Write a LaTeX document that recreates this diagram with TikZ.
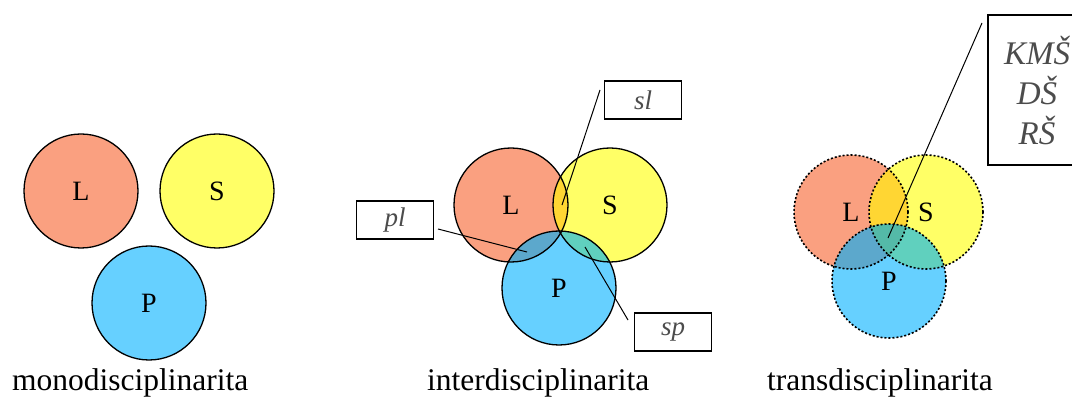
\documentclass[tikz,border=0pt]{standalone}
\usepackage{fontspec}
\setmainfont{Liberation Serif}
\usetikzlibrary{positioning}
\definecolor{vlsalmon}{RGB}{250,160,128}
\definecolor{vlyellow}{RGB}{255,255,102}
\definecolor{vlblue}{RGB}{102,208,255}
\definecolor{vlgold}{RGB}{255,214,51}
\definecolor{vlslate}{RGB}{92,168,204}
\definecolor{vlteal}{RGB}{96,208,190}
\definecolor{vlcore}{RGB}{84,186,168}

\begin{document}
\begin{tikzpicture}[
  x=1pt, y=-1pt,
  disc/.style={circle, minimum size=114pt, inner sep=0pt, outer sep=0pt, font=\fontsize{28}{28}\selectfont},
  lset/.style={disc, fill=vlsalmon},
  sset/.style={disc, fill=vlyellow},
  pset/.style={disc, fill=vlblue},
  rim/.style={draw=black, line width=1.3pt},
  dotrim/.style={rim, line width=1.6pt, dash pattern=on 2pt off 2pt},
  tag/.style={draw, line width=1.2pt, minimum width=77pt, minimum height=38pt, inner sep=0pt, font=\fontsize{27}{27}\selectfont\itshape, text=black!70},
  lead/.style={draw, line width=1pt},
  caption/.style={anchor=base west, inner sep=0pt, font=\fontsize{31.5}{31.5}\selectfont},
]
  \useasboundingbox (0,0) rectangle (1072,398);
  \clip (0,0) rectangle (1072,398);

  % monodisciplinarita: three separate sets
  \node[lset, rim] (L1) at (81,191) {L};
  \node[sset, rim] (S1) at (217,191) {S};
  \node[pset, rim] (P1) at (149,303) {P};

  % interdisciplinarita: pairwise overlaps
  \node[lset] (L2) at (511,205) {L};
  \node[sset] (S2) at (610,205) {S};
  \node[pset] (P2) at (559,288) {P};
  \begin{scope}
    \clip (L2.center) circle[radius=57pt];
    \fill[vlgold] (S2.center) circle[radius=57pt];
  \end{scope}
  \begin{scope}
    \clip (L2.center) circle[radius=57pt];
    \fill[vlslate] (P2.center) circle[radius=57pt];
  \end{scope}
  \begin{scope}
    \clip (S2.center) circle[radius=57pt];
    \fill[vlteal] (P2.center) circle[radius=57pt];
  \end{scope}
  \draw[rim] (L2.center) circle[radius=57pt];
  \draw[rim] (S2.center) circle[radius=57pt];
  \draw[rim] (P2.center) circle[radius=57pt];

  % transdisciplinarita: common core, dotted borders
  \node[lset] (L3) at (851,212) {L};
  \node[sset] (S3) at (926,212) {S};
  \node[pset] (P3) at (889,281) {P};
  \begin{scope}
    \clip (L3.center) circle[radius=57pt];
    \fill[vlgold] (S3.center) circle[radius=57pt];
  \end{scope}
  \begin{scope}
    \clip (L3.center) circle[radius=57pt];
    \fill[vlslate] (P3.center) circle[radius=57pt];
  \end{scope}
  \begin{scope}
    \clip (S3.center) circle[radius=57pt];
    \fill[vlteal] (P3.center) circle[radius=57pt];
  \end{scope}
  \begin{scope}
    \clip (L3.center) circle[radius=57pt];
    \clip (S3.center) circle[radius=57pt];
    \fill[vlcore] (P3.center) circle[radius=57pt];
  \end{scope}
  \draw[dotrim] (L3.center) circle[radius=57pt];
  \draw[dotrim] (S3.center) circle[radius=57pt];
  \draw[dotrim] (P3.center) circle[radius=57pt];

  % labels of the overlaps
  \node[tag] (sltag) at (643,100) {sl};
  \node[tag] (pltag) at (395,220) {pl};
  \node[tag] (sptag) at (673,332) {sp};
  \node[tag, minimum width=98pt, minimum height=150pt, align=center,
        font=\fontsize{33}{40}\selectfont\itshape] (kdstag) at (1037,90) {KMŠ\\DŠ\\RŠ};

  \coordinate (slfoot) at (600,90);
  \coordinate (sltip) at (562,205);
  \coordinate (plfoot) at (438,229);
  \coordinate (pltip) at (527,252);
  \coordinate (spfoot) at (628,320);
  \coordinate (sptip) at (585,247);
  \coordinate (kdsfoot) at (982,23);
  \coordinate (kdstip) at (888,238);
  \draw[lead] (slfoot) -- (sltip);
  \draw[lead] (plfoot) -- (pltip);
  \draw[lead] (spfoot) -- (sptip);
  \draw[lead] (kdsfoot) -- (kdstip);

  % captions
  \node[caption] (mono) at (12,390) {monodisciplinarita};
  \node[caption] (inter) at (427,390) {interdisciplinarita};
  \node[caption] (trans) at (767,390) {transdisciplinarita};
\end{tikzpicture}
\end{document}
